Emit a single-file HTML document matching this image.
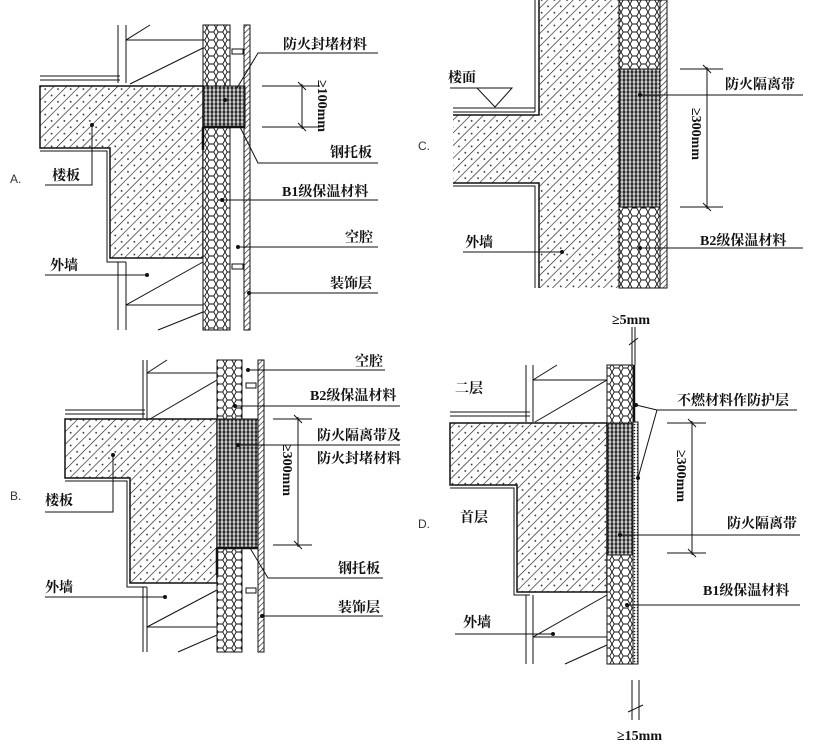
<!DOCTYPE html>
<html><head><meta charset="utf-8">
<style>
html,body{margin:0;padding:0;background:#fff;}
svg{display:block;}
text{font-family:"Liberation Serif","Noto Serif CJK SC",serif;font-size:14px;fill:#111;font-weight:bold;}
.lt{font-family:"Liberation Sans",sans-serif;font-size:12px;fill:#333;font-weight:normal;}
</style></head><body>
<svg width="820" height="752" viewBox="0 0 820 752" xmlns="http://www.w3.org/2000/svg">
<defs>
<pattern id="conc" width="9" height="9" patternUnits="userSpaceOnUse" patternTransform="rotate(45)">
<rect width="9" height="9" fill="#fff"/><line x1="0" y1="0" x2="0" y2="9" stroke="#111" stroke-width="1.2"/>
<circle cx="5" cy="4" r="0.9" fill="#222"/>
</pattern>
<pattern id="hex" width="9" height="8" patternUnits="userSpaceOnUse">
<rect width="9" height="8" fill="#fff"/>
<path d="M0 4 L2.2 0 L6.7 0 L9 4 L6.7 8 L2.2 8 Z" fill="none" stroke="#111" stroke-width="0.9"/>
</pattern>
<pattern id="fire" width="4" height="4" patternUnits="userSpaceOnUse">
<rect width="4" height="4" fill="#444"/>
<path d="M0 2 L1 0 L3 0 L4 2 L3 4 L1 4 Z" fill="#ccc" stroke="#111" stroke-width="0.6"/>
</pattern>
<pattern id="clad" width="4" height="4" patternUnits="userSpaceOnUse" patternTransform="rotate(45)">
<rect width="4" height="4" fill="#fff"/><line x1="0" y1="0" x2="0" y2="4" stroke="#111" stroke-width="1.2"/>
</pattern>
<pattern id="dots" width="3" height="3" patternUnits="userSpaceOnUse">
<rect width="3" height="3" fill="#fff"/><circle cx="1.5" cy="1.5" r="0.8" fill="#222"/>
</pattern>
</defs>
<g stroke="#111" fill="none" stroke-width="1">

<!-- ===== A ===== -->
<line x1="118" y1="25" x2="118" y2="83"/><line x1="126" y1="25" x2="126" y2="83"/>
<line x1="40" y1="76" x2="120" y2="76"/><line x1="40" y1="80" x2="120" y2="80"/>
<line x1="126" y1="40" x2="150" y2="25"/><line x1="126" y1="40" x2="203" y2="40"/><line x1="130" y1="84" x2="203" y2="48"/>
<path d="M40 86 H203 V258 H110 V148 H40 Z" fill="url(#conc)" stroke-width="1.5"/>
<path d="M40 151 H107 V262 H126" />
<line x1="118" y1="262" x2="118" y2="330"/><line x1="126" y1="262" x2="126" y2="330"/>
<line x1="126" y1="305" x2="203" y2="305"/><line x1="126" y1="305" x2="203" y2="262"/><line x1="158" y1="330" x2="203" y2="312"/>
<rect x="203" y="25" width="27" height="305" fill="url(#hex)"/>
<line x1="230" y1="25" x2="230" y2="330"/>
<rect x="244" y="25" width="6" height="305" fill="url(#clad)"/>
<rect x="203" y="86" width="42" height="41" fill="url(#fire)"/>
<line x1="203" y1="127" x2="245" y2="127" stroke-width="2.5"/>
<line x1="203" y1="127" x2="203" y2="150" stroke-width="2.5"/>
<rect x="232" y="49" width="11" height="5"/><rect x="232" y="264" width="11" height="5"/>
<line x1="262" y1="86" x2="320" y2="86"/><line x1="262" y1="127" x2="320" y2="127"/>
<line x1="302" y1="84" x2="302" y2="129"/>
<line x1="298" y1="82" x2="306" y2="90"/><line x1="298" y1="123" x2="306" y2="131"/>
<path d="M237 88 L258 53 H378"/><path d="M240 127 L258 163 H378"/>
<line x1="222" y1="200" x2="378" y2="200"/><line x1="238" y1="247" x2="378" y2="247"/><line x1="249" y1="293" x2="378" y2="293"/>
<path d="M45 185 H92 V125"/><line x1="45" y1="275" x2="147" y2="275"/>

<!-- ===== B ===== -->
<line x1="143" y1="360" x2="143" y2="418"/><line x1="147" y1="360" x2="147" y2="418"/>
<line x1="65" y1="410" x2="145" y2="410"/><line x1="65" y1="414" x2="145" y2="414"/>
<line x1="147" y1="373" x2="167" y2="360"/><line x1="147" y1="373" x2="217" y2="373"/><line x1="150" y1="419" x2="217" y2="380"/>
<path d="M65 419 H217 V583 H130 V478 H65 Z" fill="url(#conc)" stroke-width="1.5"/>
<path d="M65 481 H127 V587 H147"/>
<line x1="143" y1="587" x2="143" y2="652"/><line x1="147" y1="587" x2="147" y2="652"/>
<line x1="147" y1="627" x2="217" y2="627"/><line x1="147" y1="627" x2="217" y2="590"/><line x1="178" y1="652" x2="217" y2="635"/>
<rect x="217" y="360" width="25" height="292" fill="url(#hex)"/>
<line x1="242" y1="360" x2="242" y2="652"/>
<rect x="258" y="360" width="6" height="292" fill="url(#clad)"/>
<rect x="217" y="419" width="41" height="129" fill="url(#fire)"/>
<line x1="217" y1="548" x2="258" y2="548" stroke-width="2.5"/>
<line x1="217" y1="548" x2="217" y2="575" stroke-width="2.5"/>
<rect x="246" y="383" width="10" height="5"/><rect x="246" y="588" width="10" height="5"/>
<line x1="273" y1="419" x2="312" y2="419"/><line x1="273" y1="545" x2="312" y2="545"/>
<line x1="298" y1="417" x2="298" y2="547"/>
<line x1="294" y1="415" x2="302" y2="423"/><line x1="294" y1="541" x2="302" y2="549"/>
<line x1="248" y1="370" x2="385" y2="370"/><line x1="235" y1="406" x2="400" y2="406"/><line x1="238" y1="445" x2="400" y2="445"/>
<path d="M250 548 L268 578 H383"/><line x1="262" y1="616" x2="383" y2="616"/>
<path d="M45 512 H113 V455"/><line x1="45" y1="597" x2="165" y2="597"/>

<!-- ===== C ===== -->
<line x1="535" y1="0" x2="535" y2="112"/><line x1="539" y1="0" x2="539" y2="115"/>
<line x1="453" y1="108" x2="535" y2="108"/><line x1="453" y1="112" x2="535" y2="112"/>
<path d="M539 0 H619 V288 H539 V183 H453 V115 H539 Z" fill="url(#conc)" stroke="none"/>
<path d="M453 115 H539 V0 M453 183 H539 V288" stroke-width="1.5"/>
<path d="M453 186 H535 V288"/>
<line x1="619" y1="0" x2="619" y2="288"/>
<rect x="619" y="0" width="41" height="288" fill="url(#hex)"/>
<rect x="660" y="0" width="7" height="288" fill="url(#clad)"/>
<rect x="619" y="69" width="41" height="138" fill="url(#fire)"/>
<path d="M477 88 L512 88 L495 107 Z"/><line x1="450" y1="88" x2="512" y2="88"/>
<line x1="680" y1="69" x2="723" y2="69"/><line x1="680" y1="207" x2="723" y2="207"/>
<line x1="707" y1="67" x2="707" y2="209"/>
<line x1="703" y1="65" x2="711" y2="73"/><line x1="703" y1="203" x2="711" y2="211"/>
<line x1="640" y1="95" x2="803" y2="95"/><line x1="640" y1="248" x2="803" y2="248"/>
<line x1="463" y1="252" x2="562" y2="252"/>

<!-- ===== D ===== -->
<line x1="526" y1="365" x2="526" y2="422"/><line x1="533" y1="365" x2="533" y2="422"/>
<line x1="450" y1="412" x2="530" y2="412"/><line x1="450" y1="416" x2="530" y2="416"/>
<line x1="533" y1="380" x2="557" y2="365"/><line x1="533" y1="380" x2="607" y2="380"/><line x1="535" y1="422" x2="607" y2="380"/>
<path d="M450 423 H607 V592 H517 V485 H450 Z" fill="url(#conc)" stroke-width="1.5"/>
<path d="M450 488 H514 V595 H530"/>
<line x1="526" y1="595" x2="526" y2="664"/><line x1="533" y1="595" x2="533" y2="664"/>
<line x1="533" y1="637" x2="607" y2="637"/><line x1="533" y1="637" x2="607" y2="595"/><line x1="565" y1="664" x2="607" y2="645"/>
<rect x="607" y="365" width="26" height="299" fill="url(#hex)"/>
<rect x="607" y="423" width="26" height="132" fill="url(#fire)"/>
<rect x="633" y="422" width="5" height="242" fill="url(#dots)"/>
<line x1="634" y1="365" x2="634" y2="422" stroke-width="2.5"/>
<line x1="632" y1="327" x2="632" y2="365"/><line x1="635" y1="327" x2="635" y2="365"/>
<line x1="629" y1="345" x2="638" y2="338"/>
<line x1="632" y1="680" x2="632" y2="720"/><line x1="639" y1="680" x2="639" y2="720"/>
<line x1="628" y1="712" x2="643" y2="705"/>
<path d="M636 405 L657 410 H797 M657 410 L638 478"/>
<line x1="667" y1="423" x2="706" y2="423"/><line x1="667" y1="553" x2="706" y2="553"/>
<line x1="692" y1="421" x2="692" y2="555"/>
<line x1="688" y1="419" x2="696" y2="427"/><line x1="688" y1="549" x2="696" y2="557"/>
<line x1="620" y1="535" x2="800" y2="535"/><line x1="627" y1="605" x2="800" y2="605"/>
<line x1="455" y1="634" x2="553" y2="634"/>
</g>
<g fill="#111">
<circle cx="92" cy="125" r="2"/><circle cx="147" cy="275" r="2"/><circle cx="222" cy="200" r="2"/><circle cx="238" cy="247" r="2"/><circle cx="249" cy="293" r="2"/><circle cx="225" cy="100" r="2"/>
<circle cx="113" cy="455" r="2"/><circle cx="165" cy="597" r="2"/><circle cx="248" cy="370" r="2"/><circle cx="235" cy="406" r="2"/><circle cx="238" cy="445" r="2"/><circle cx="262" cy="616" r="2"/>
<circle cx="640" cy="95" r="2"/><circle cx="640" cy="248" r="2"/><circle cx="562" cy="252" r="2"/>
<circle cx="636" cy="405" r="2"/><circle cx="638" cy="478" r="2"/><circle cx="620" cy="535" r="2"/><circle cx="627" cy="605" r="2"/><circle cx="553" cy="634" r="2"/>
</g>
<text x="283" y="49">防火封堵材料</text>
<text x="330" y="157">钢托板</text>
<text x="282" y="196">B1级保温材料</text>
<text x="345" y="242">空腔</text>
<text x="330" y="288">装饰层</text>
<text x="52" y="180">楼板</text>
<text x="50" y="270">外墙</text>
<text class="lt" x="10" y="183">A.</text>
<text transform="translate(318,80) rotate(90)">≥100mm</text>

<text x="355" y="366">空腔</text>
<text x="310" y="400">B2级保温材料</text>
<text x="317" y="440">防火隔离带及</text>
<text x="317" y="463">防火封堵材料</text>
<text x="338" y="573">钢托板</text>
<text x="338" y="612">装饰层</text>
<text x="45" y="505">楼板</text>
<text x="45" y="592">外墙</text>
<text class="lt" x="10" y="500">B.</text>
<text transform="translate(283,444) rotate(90)">≥300mm</text>

<text x="448" y="82">楼面</text>
<text x="725" y="89">防火隔离带</text>
<text x="700" y="245">B2级保温材料</text>
<text x="465" y="247">外墙</text>
<text class="lt" x="418" y="150">C.</text>
<text transform="translate(692,108) rotate(90)">≥300mm</text>

<text x="612" y="324">≥5mm</text>
<text x="617" y="740">≥15mm</text>
<text x="455" y="393">二层</text>
<text x="460" y="522">首层</text>
<text x="463" y="627">外墙</text>
<text x="677" y="405">不燃材料作防护层</text>
<text x="727" y="528">防火隔离带</text>
<text x="703" y="595">B1级保温材料</text>
<text class="lt" x="418" y="528">D.</text>
<text transform="translate(677,450) rotate(90)">≥300mm</text>
</svg>
</body></html>
